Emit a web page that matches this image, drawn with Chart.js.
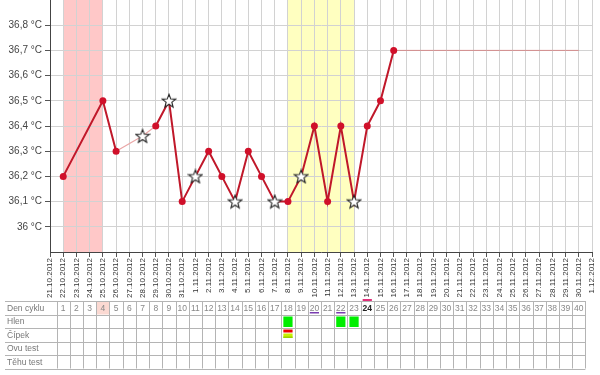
<!DOCTYPE html>
<html>
<head>
<meta charset="utf-8">
<script src="https://cdn.jsdelivr.net/npm/chart.js@4"></script>
<style>
  body { margin: 0; background: #fff; }
  canvas { display: block; }
</style>
</head>
<body>
<canvas id="chart" width="600" height="375"></canvas>
<script>
// dates along the x axis
const dates = [
  '21.10.2012', '22.10.2012', '23.10.2012', '24.10.2012', '25.10.2012', '26.10.2012',
  '27.10.2012', '28.10.2012', '29.10.2012', '30.10.2012', '31.10.2012',
  '1.11.2012', '2.11.2012', '3.11.2012', '4.11.2012', '5.11.2012', '6.11.2012',
  '7.11.2012', '8.11.2012', '9.11.2012', '10.11.2012', '11.11.2012', '12.11.2012',
  '13.11.2012', '14.11.2012', '15.11.2012', '16.11.2012', '17.11.2012', '18.11.2012',
  '19.11.2012', '20.11.2012', '21.11.2012', '22.11.2012', '23.11.2012', '24.11.2012',
  '25.11.2012', '26.11.2012', '27.11.2012', '28.11.2012', '29.11.2012', '30.11.2012',
  '1.12.2012'
];

// measured temperature per date (null = not measured)
const teploty = [
  null, 36.2, null, null, 36.5, 36.3, null, 36.36, 36.4, 36.5, 36.1,
  36.2, 36.3, 36.2, 36.1, 36.3, 36.2, 36.1, 36.1, 36.2, 36.4, 36.1, 36.4,
  36.1, 36.4, 36.5, 36.7, null, null, null, null, null, null, null, null,
  null, null, null, null, null, null, null
];

// dates whose measurement is marked with a star
const hvezdy = ['28.10.2012', '30.10.2012', '1.11.2012', '4.11.2012', '7.11.2012', '9.11.2012', '13.11.2012'];
// excluded measurements (drawn with a faint line)
const vynechane = ['28.10.2012'];

// flat line after the last measurement
const linie = [
  null, null, null, null, null, null, null, null, null, null, null,
  null, null, null, null, null, null, null, null, null, null, null, null,
  null, null, null, 36.7, 36.7, 36.7, 36.7, 36.7, 36.7, 36.7, 36.7, 36.7,
  36.7, 36.7, 36.7, 36.7, 36.7, 36.7, null
];

const menstruace = ['22.10.2012', '25.10.2012'];
const plodneDny = ['8.11.2012', '13.11.2012'];

// table below the chart
const radky = ['Den cyklu', 'Hlen', 'Čípek', 'Ovu test', 'Těhu test'];
const denCyklu = [
  1, 2, 3, 4, 5, 6, 7, 8, 9, 10, 11, 12, 13, 14, 15, 16, 17, 18, 19, 20,
  21, 22, 23, 24, 25, 26, 27, 28, 29, 30, 31, 32, 33, 34, 35, 36, 37, 38, 39, 40
];
const zvyrazneneDny = [4];
const podtrzeneDny = [20, 22];
const dnesniDen = 24;
const hlenDny = [18, 22, 23];
const cipekDny = [18];

const yMin = 35.9;
const yMax = 36.9;

// hollow star marker
const starImg = document.createElement('canvas');
starImg.width = 16;
starImg.height = 16;
(function () {
  const c = starImg.getContext('2d');
  c.beginPath();
  for (let i = 0; i < 10; i++) {
    const r = i % 2 === 0 ? 7 : 3;
    const a = -Math.PI / 2 + i * Math.PI / 5;
    const px = 8 + r * Math.cos(a);
    const py = 8.5 + r * Math.sin(a);
    if (i === 0) c.moveTo(px, py); else c.lineTo(px, py);
  }
  c.closePath();
  c.fillStyle = '#fff';
  c.fill();
  c.lineWidth = 1.1;
  c.strokeStyle = '#222';
  c.stroke();
})();

const bandsPlugin = {
  id: 'bands',
  beforeDraw(chart) {
    const { ctx, chartArea, scales } = chart;
    const x = scales.x;
    const draw = (range, color) => {
      const x0 = x.getPixelForValue(dates.indexOf(range[0]));
      const x1 = x.getPixelForValue(dates.indexOf(range[1]));
      ctx.save();
      ctx.fillStyle = color;
      ctx.fillRect(x0, chartArea.top, x1 - x0, chartArea.bottom - chartArea.top);
      ctx.restore();
    };
    draw(menstruace, '#ffc8c8');
    draw(plodneDny, '#ffffc0');
  }
};

const tablePlugin = {
  id: 'table',
  afterDraw(chart) {
    const { ctx } = chart;
    const x = chart.scales.x;
    const half = (x.getPixelForValue(1) - x.getPixelForValue(0)) / 2;
    const top = 301;
    const rowH = 13.5;
    const left = 5;
    const firstCol = x.getPixelForValue(1) - half;
    const lastCol = x.getPixelForValue(denCyklu.length) + half;

    ctx.save();
    // header highlights
    zvyrazneneDny.forEach(d => {
      const cx = x.getPixelForValue(d);
      ctx.fillStyle = '#fbd9d2';
      ctx.fillRect(cx - half, top, half * 2, rowH);
    });
    // mucus cells
    hlenDny.forEach(d => {
      const cx = x.getPixelForValue(d);
      ctx.fillStyle = '#00ee00';
      ctx.fillRect(cx - half + 2, top + rowH + 2, half * 2 - 4, rowH - 3);
    });
    // cervix cells
    cipekDny.forEach(d => {
      const cx = x.getPixelForValue(d);
      ctx.fillStyle = '#ee0000';
      ctx.fillRect(cx - half + 2, top + rowH * 2 + 1.5, half * 2 - 4, 3);
      ctx.fillStyle = '#c8f000';
      ctx.fillRect(cx - half + 2, top + rowH * 2 + 5.5, half * 2 - 4, 4.5);
      ctx.fillStyle = '#9ad000';
      ctx.fillRect(cx - half + 2, top + rowH * 2 + 8.5, half * 2 - 4, 1.5);
    });

    // grid lines
    ctx.strokeStyle = '#b4b4b4';
    ctx.lineWidth = 1;
    ctx.beginPath();
    for (let r = 0; r <= radky.length; r++) {
      const y = Math.round(top + r * rowH) + 0.5;
      ctx.moveTo(left, y);
      ctx.lineTo(lastCol, y);
    }
    for (let i = 0; i <= denCyklu.length; i++) {
      const cx = Math.round(firstCol + i * half * 2) + 0.5;
      ctx.moveTo(cx, top);
      ctx.lineTo(cx, top + radky.length * rowH);
    }
    ctx.stroke();

    // row labels
    ctx.font = '8.5px Arial, "Liberation Sans", sans-serif';
    ctx.fillStyle = '#777';
    ctx.textBaseline = 'middle';
    ctx.textAlign = 'left';
    radky.forEach((t, r) => ctx.fillText(t, left + 2, top + r * rowH + rowH / 2 + 0.5));

    // day numbers
    ctx.textAlign = 'center';
    denCyklu.forEach(d => {
      const cx = x.getPixelForValue(d);
      const cy = top + rowH / 2 + 0.5;
      if (d === dnesniDen) {
        ctx.font = 'bold 8.5px Arial, "Liberation Sans", sans-serif';
        ctx.fillStyle = '#222';
        ctx.fillText(String(d), cx, cy);
        ctx.fillStyle = '#e0307a';
        ctx.fillRect(cx - half + 2, top - 2, half * 2 - 4, 2);
      } else {
        ctx.font = '8.5px Arial, "Liberation Sans", sans-serif';
        ctx.fillStyle = '#888';
        ctx.fillText(String(d), cx, cy);
      }
      if (podtrzeneDny.includes(d)) {
        ctx.fillStyle = '#7a3cb0';
        ctx.fillRect(cx - half + 2, top + rowH - 2.5, half * 2 - 4, 1.5);
      }
    });
    ctx.restore();
  }
};

const isLight = c => {
  const a = c.p0DataIndex, b = c.p1DataIndex;
  return b - a > 1 || vynechane.includes(dates[a]) || vynechane.includes(dates[b]);
};

new Chart(document.getElementById('chart'), {
  type: 'line',
  data: {
    labels: dates,
    datasets: [
      {
        label: 'Teplota',
        data: teploty,
        spanGaps: true,
        borderColor: '#c0182a',
        borderWidth: 2,
        segment: {
          borderColor: c => isLight(c) ? '#eaa6a6' : '#c0182a',
          borderWidth: c => isLight(c) ? 1.2 : 2
        },
        pointStyle: c => hvezdy.includes(dates[c.dataIndex]) ? starImg : 'circle',
        pointRadius: 3.5,
        pointBackgroundColor: '#d0102a',
        pointBorderColor: '#d0102a',
        pointBorderWidth: 0,
        order: 0
      },
      {
        label: 'Linie',
        data: linie,
        borderColor: '#d48c8c',
        borderWidth: 1,
        pointRadius: 0,
        order: 1
      }
    ]
  },
  options: {
    responsive: false,
    animation: false,
    layout: { autoPadding: false, padding: { left: 0, right: 8, top: 0, bottom: 73 } },
    plugins: { legend: { display: false }, tooltip: { enabled: false } },
    scales: {
      x: {
        offset: false,
        grid: { color: '#d2d2d2', tickColor: '#555', tickLength: 5, drawOnChartArea: true },
        border: { color: '#444', width: 1 },
        ticks: {
          autoSkip: false,
          maxRotation: 90,
          minRotation: 90,
          padding: 1,
          color: '#333',
          font: { family: 'Arial, "Liberation Sans", sans-serif', size: 8 }
        },
        afterFit: s => {
          s.height = 50;
          s.paddingLeft = 0;
          s.paddingRight = 0;
        }
      },
      y: {
        min: yMin,
        max: yMax,
        grid: { color: '#d2d2d2', tickColor: '#555', tickLength: 5 },
        border: { color: '#444', width: 1 },
        ticks: {
          stepSize: 0.1,
          padding: 3,
          color: '#444',
          font: { family: 'Arial, "Liberation Sans", sans-serif', size: 10 },
          callback: v => Number(v.toFixed(1)).toString().replace('.', ',') + ' °C'
        },
        afterBuildTicks: s => {
          s.ticks = s.ticks.filter(t => t.value > yMin + 0.05 && t.value < yMax - 0.05);
        },
        afterFit: s => {
          s.width = 50;
          s.paddingTop = 0;
          s.paddingBottom = 0;
        }
      }
    }
  },
  plugins: [bandsPlugin, tablePlugin]
});
</script>
</body>
</html>
